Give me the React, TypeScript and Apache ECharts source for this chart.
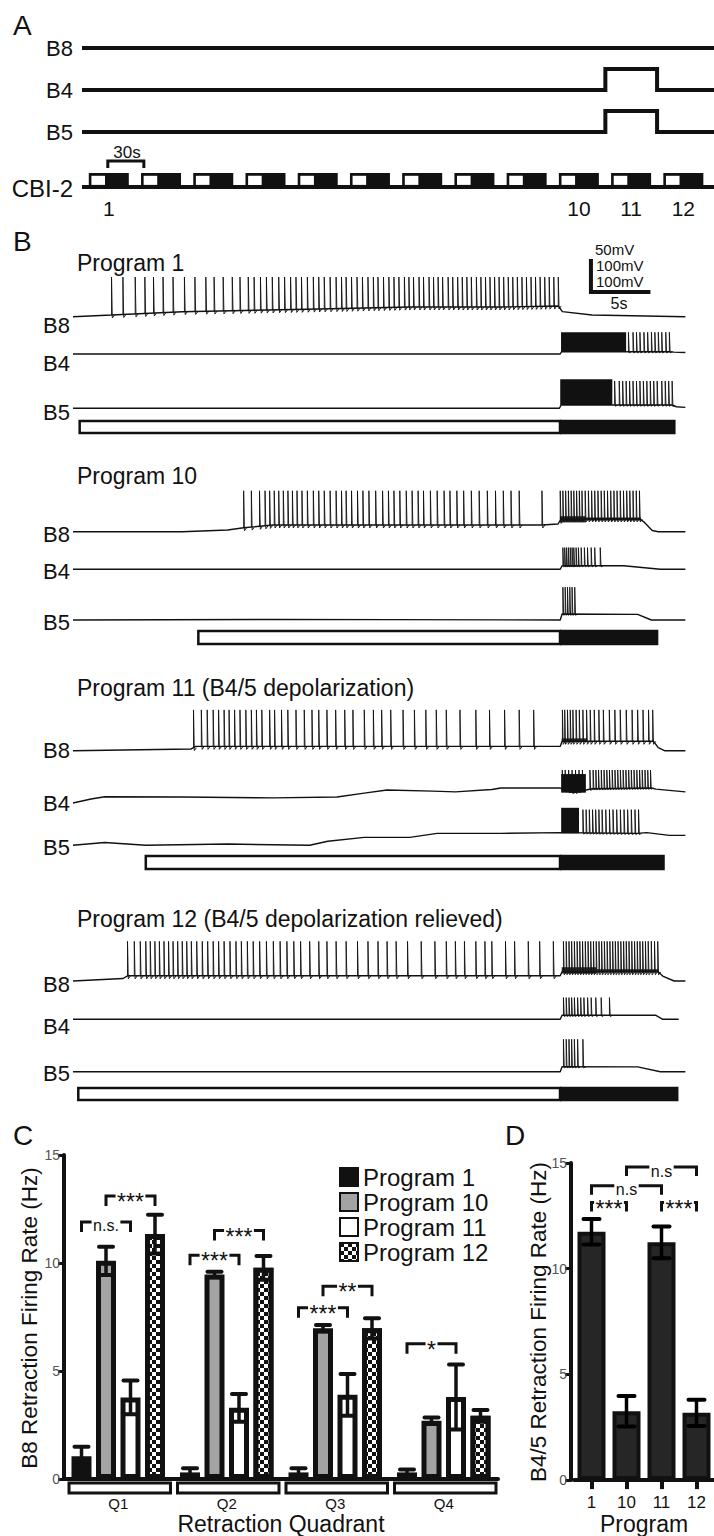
import React, { useEffect, useRef } from 'react';
import * as echarts from 'echarts';

const FONT = '"Liberation Sans", Arial, Helvetica, sans-serif';
const INK = '#111';

// ---------------- Panel A (protocol) ----------------
const aCycles = [0, 1, 2, 3, 4, 5, 6, 7, 8, 9, 10, 11];
const aBlockLength = 0.766;
const aProgramMarks = [0, 9, 10, 11];
const aProgramLabels = ['1', '10', '11', '12'];
const aB8 = [[-0.13, 0], [11.97, 0]];
const aB4 = [[-0.13, 0], [9.89, 0], [9.89, 1], [10.88, 1], [10.88, 0], [11.97, 0]];
const aB5 = [[-0.13, 0], [9.89, 0], [9.89, 1], [10.88, 1], [10.88, 0], [11.97, 0]];
const aCbiBase = [[-0.13, 0], [11.97, 0]];
const aBracket30s = [[0.364, 1.36], [0.364, 1.86], [1.054, 1.86], [1.054, 1.36]];

// ---------------- Panel B (recordings, time in s, membrane potential in mV) ----------------
const p1B8Base = [[0, -60], [3.35, -57.3], [9.49, -51.9], [21.37, -47.6], [29.3, -44.4], [37.21, -44.4], [42.2, -42.7], [42.56, -51.9], [45.13, -57.3], [53.25, -60]];
const p1B8Spikes = [3.35, 4.34, 5.41, 6.25, 7.0, 7.83, 8.7, 9.69, 10.6, 11.55, 12.27, 13.06, 13.85, 14.52, 15.24, 15.75, 16.3, 16.82, 17.33, 17.89, 18.4, 18.92, 19.39, 19.87, 20.38, 20.9, 21.37, 21.85, 22.36, 22.88, 23.35, 23.75, 24.22, 24.7, 25.17, 25.65, 26.12, 26.52, 27.0, 27.47, 27.91, 28.34, 28.82, 29.21, 29.61, 30.09, 30.48, 30.96, 31.35, 31.75, 32.14, 32.62, 33.02, 33.45, 33.85, 34.25, 34.64, 35.08, 35.47, 35.87, 36.26, 36.66, 37.05, 37.45, 37.85, 38.24, 38.64, 39.04, 39.43, 39.83, 40.22, 40.62, 41.02, 41.41, 41.81, 42.2];
const p1B8Peak = 4;
const p1B8Bursts: number[][] = [];
const p1B4Base = [[0, -60], [42.37, -60], [42.49, -52.6], [51.86, -52.6], [52.26, -54], [53.25, -55]];
const p1B4Spikes = [48.3, 48.7, 49.0, 49.3, 49.65, 49.97, 50.3, 50.6, 50.9, 51.2, 51.55, 51.86];
const p1B4Peak = 10;
const p1B4Bursts = [[42.44, 48.1, -52.6, 10]];
const p1B5Base = [[0, -60], [42.29, -60], [42.45, -49.4], [52.07, -49.4], [52.47, -55], [53.25, -57]];
const p1B5Spikes = [47.1, 47.5, 47.8, 48.1, 48.4, 48.7, 49.0, 49.3, 49.6, 49.9, 50.2, 50.5, 50.8, 51.2, 51.5, 51.8, 52.1];
const p1B5Peak = 28;
const p1B5Bursts = [[42.37, 46.9, -49.4, 34]];

const p10B8Base = [[0, -60], [9.5, -60], [13.45, -57.3], [14.84, -53.7], [17.42, -49.2], [40.78, -49.2], [42.17, -47.6], [42.45, -39.5], [49.3, -39.5], [49.7, -45], [50.37, -58], [50.89, -60], [53.25, -60]];
const p10B8Spikes = [14.84, 15.51, 16.22, 16.7, 17.1, 17.5, 17.89, 18.29, 18.69, 19.08, 19.48, 19.91, 20.38, 20.9, 21.37, 21.85, 22.36, 22.88, 23.35, 23.75, 24.22, 24.74, 25.21, 25.73, 26.32, 26.92, 27.43, 27.91, 28.42, 28.98, 29.49, 30.01, 30.48, 31.08, 31.67, 32.27, 32.78, 33.38, 33.97, 34.64, 35.32, 36.03, 36.74, 37.42, 38.09, 38.8, 40.78, 42.37, 42.6, 42.84, 43.08, 43.32, 43.55, 43.79, 44.03, 44.26, 44.54, 44.82, 45.1, 45.37, 45.65, 45.93, 46.2, 46.48, 46.76, 47.04, 47.31, 47.59, 47.87, 48.15, 48.42, 48.7, 48.98, 49.26];
const p10B8Peak = 6;
const p10B8Bursts = [[42.35, 44.6, -45, -35], [44.6, 49.4, -42, -37]];
const p10B4Base = [[0, -60], [42.37, -60], [42.53, -48.4], [47.9, -48.4], [51.07, -60], [53.25, -60]];
const p10B4Spikes = [42.6, 42.76, 42.92, 43.08, 43.24, 43.4, 43.55, 43.75, 43.95, 44.19, 44.47, 44.74, 45.06, 45.37, 45.85];
const p10B4Peak = 10;
const p10B4Bursts: number[][] = [];
const p10B5Base = [[0, -60], [17.4, -58], [42.37, -60], [42.53, -40.6], [49.1, -42], [50.3, -60], [53.25, -60]];
const p10B5Spikes = [42.6, 42.8, 43.0, 43.2, 43.4, 43.63];
const p10B5Peak = 46;
const p10B5Bursts: number[][] = [];

const p11B8Base = [[0, -60], [10.28, -57], [10.68, -52.9], [42.37, -52.9], [42.53, -44.7], [50.49, -44.7], [50.89, -55], [51.48, -60], [53.25, -60]];
const p11B8Spikes = [10.48, 11.16, 11.67, 12.19, 12.66, 13.14, 13.57, 14.05, 14.52, 15.03, 15.51, 15.95, 16.42, 17.1, 17.53, 18.13, 18.68, 19.39, 20.11, 20.78, 21.37, 22.08, 22.84, 23.63, 24.34, 25.33, 26.12, 26.84, 27.63, 28.7, 29.69, 30.68, 31.59, 32.46, 33.65, 35.03, 36.22, 37.53, 38.8, 40.06, 42.56, 42.76, 43.0, 43.24, 43.47, 43.75, 44.03, 44.34, 44.66, 44.98, 45.33, 45.73, 46.12, 46.64, 47.12, 47.59, 48.11, 48.62, 49.1, 49.57, 50.05, 50.41];
const p11B8Peak = 6;
const p11B8Bursts = [[42.5, 44.7, -46, -40]];
const p11B4Base = [[0, -79.4], [1.57, -66.5], [2.76, -59], [9.49, -60], [17.42, -62.9], [22.96, -60], [25.33, -47.4], [27.31, -37.4], [31.27, -41], [33.25, -43.5], [36.42, -35.8], [37.21, -31], [42.37, -31], [42.76, -40], [43.55, -46], [45.13, -33.2], [50.29, -31], [50.69, -34.5], [53.25, -43.5]];
const p11B4Spikes = [42.55, 42.8, 43.1, 43.4, 43.7, 44.0, 44.3, 44.95, 45.23, 45.47, 45.7, 45.94, 46.18, 46.42, 46.65, 46.89, 47.13, 47.37, 47.6, 47.84, 48.08, 48.32, 48.55, 48.79, 49.03, 49.27, 49.5, 49.74, 49.98, 50.22];
const p11B4Peak = 27;
const p11B4Bursts = [[42.45, 44.6, -46, 14]];
const p11B5Base = [[0, -60], [2.76, -51], [6.32, -60], [13.45, -56], [20.58, -60], [22.16, -47.1], [25.33, -34.5], [29.29, -34.5], [31.67, -21.6], [37.21, -21.6], [42.37, -19], [49.1, -21.6], [49.89, -19], [51.87, -28], [53.25, -28]];
const p11B5Spikes = [44.34, 44.62, 44.9, 45.18, 45.45, 45.73, 46.01, 46.33, 46.65, 46.96, 47.28, 47.6, 47.92, 48.23, 48.55, 48.87, 49.18];
const p11B5Peak = 55;
const p11B5Bursts = [[42.45, 44.0, -21, 61]];

const p12B8Base = [[0, -60], [4.35, -56], [4.74, -51.6], [42.37, -51.6], [42.53, -45.2], [50.89, -45.2], [51.28, -52], [52.27, -60], [53.25, -60]];
const p12B8Spikes = [4.74, 5.33, 5.85, 6.33, 6.72, 7.12, 7.51, 7.91, 8.31, 8.7, 9.1, 9.5, 9.89, 10.29, 10.76, 11.24, 11.71, 12.19, 12.66, 13.14, 13.65, 14.17, 14.64, 15.16, 15.67, 16.23, 16.82, 17.42, 18.01, 18.6, 19.2, 19.79, 20.58, 21.37, 22.08, 22.88, 23.75, 24.74, 25.65, 26.52, 27.31, 28.1, 29.09, 30.28, 31.47, 32.46, 33.25, 34.04, 35.03, 35.82, 36.42, 37.61, 38.4, 39.59, 40.58, 41.77, 42.65, 42.89, 43.13, 43.36, 43.6, 43.84, 44.07, 44.31, 44.55, 44.79, 45.02, 45.26, 45.5, 45.74, 45.97, 46.21, 46.45, 46.69, 46.93, 47.16, 47.4, 47.64, 47.88, 48.11, 48.35, 48.59, 48.83, 49.07, 49.3, 49.54, 49.78, 50.02, 50.29, 50.57, 50.85];
const p12B8Peak = 4;
const p12B8Bursts = [[42.5, 45.5, -48, -38], [45.5, 50.9, -46, -41]];
const p12B4Base = [[0, -60], [42.37, -60], [42.53, -47.1], [50.69, -47.1], [51.28, -60], [52.67, -60]];
const p12B4Spikes = [42.65, 42.89, 43.13, 43.36, 43.6, 43.88, 44.15, 44.43, 44.75, 45.06, 45.46, 45.93, 46.65];
const p12B4Peak = 10;
const p12B4Bursts: number[][] = [];
const p12B5Base = [[0, -60], [42.37, -60], [42.53, -43.5], [49.1, -44], [51.08, -60], [53.25, -60]];
const p12B5Spikes = [42.65, 42.89, 43.13, 43.36, 43.6, 43.88, 44.34];
const p12B5Peak = 45;
const p12B5Bursts: number[][] = [];

// protraction (white) start, switch to retraction (black), end
const stimBars = [[0.58, 42.35, 52.4], [10.9, 42.35, 50.9], [6.33, 42.35, 51.46], [0.46, 42.35, 52.65]];
const programTitles = ['Program 1', 'Program 10', 'Program 11 (B4/5 depolarization)', 'Program 12 (B4/5 depolarization relieved)'];
const cellNames = ['B8', 'B4', 'B5'];
// scale bar: 5 s, 50 mV (B8) / 100 mV (B4, B5)
const scaleBar = [[45.04, 29.8], [45.04, -20.2], [50.04, -20.2]];
const scaleTexts = ['50mV', '100mV', '100mV', '5s'];

// ---------------- Panel C ----------------
const quadrants = ['Q1', 'Q2', 'Q3', 'Q4'];
const programs = ['Program 1', 'Program 10', 'Program 11', 'Program 12'];
const cP1 = [1.06, 0.31, 0.31, 0.31];
const cP1Err = [0.44, 0.19, 0.19, 0.14];
const cP10 = [10.1, 9.47, 6.98, 2.7];
const cP10Err = [0.65, 0.13, 0.15, 0.15];
const cP11 = [3.78, 3.3, 3.9, 3.8];
const cP11Err = [0.78, 0.64, 0.97, 1.5];
const cP12 = [11.34, 9.78, 6.98, 2.93];
const cP12Err = [0.9, 0.55, 0.47, 0.27];
// [quadrant, from program index, to program index, bracket height (Hz)]
const cSig = [[0, 0, 2, 11.9], [0, 1, 3, 13.1], [1, 0, 2, 10.36], [1, 1, 3, 11.5], [2, 0, 2, 7.93], [2, 1, 3, 8.92], [3, 0, 2, 6.26]];
const cSigLabels = ['n.s.', '***', '***', '***', '***', '**', '*'];

// ---------------- Panel D ----------------
const dPrograms = ['1', '10', '11', '12'];
const dRate = [11.75, 3.26, 11.25, 3.18];
const dErr = [0.6, 0.72, 0.75, 0.62];
const dSig = [[0, 1, 13.13], [2, 3, 13.13], [0, 2, 13.92], [1, 3, 14.81]];
const dSigLabels = ['***', '***', 'n.s', 'n.s'];

// ---------------- layout ----------------
const layoutB = [
  { title: 263, base: [316.7, 354, 408.3], labels: [325, 363, 412], stim: [421, 12] },
  { title: 476, base: [531.7, 569.3, 620], labels: [534, 571, 622], stim: [631, 13] },
  { title: 688, base: [750.8, 797, 845.3], labels: [750, 803, 847], stim: [856, 13] },
  { title: 919, base: [981, 1019.3, 1071.8], labels: [984, 1026, 1073], stim: [1088, 12] },
];
const C_OFFSETS = [-36.75, -12.25, 12.25, 36.75];
const CHAR_W: Record<string, number> = { '*': 0.389, n: 0.556, s: 0.5, '.': 0.278 };

function baseAt(pts: number[][], t: number) {
  if (t <= pts[0][0]) return pts[0][1];
  for (let i = 0; i < pts.length - 1; i++) {
    const t0 = pts[i][0], v0 = pts[i][1], t1 = pts[i + 1][0], v1 = pts[i + 1][1];
    if (t <= t1) return t1 === t0 ? v1 : v0 + ((v1 - v0) * (t - t0)) / (t1 - t0);
  }
  return pts[pts.length - 1][1];
}

// significance bracket: ticks at x1, x2, line at y, label interrupting the line
function sigBracket(text: string, x1: number, x2: number, y: number, tick: number) {
  const stars = text.indexOf('*') >= 0;
  const fs = stars ? 23 : 16;
  let w = 0;
  for (const ch of text) w += (CHAR_W[ch] || 0.5) * fs;
  const mid = (x1 + x2) / 2;
  const hw = w / 2 + 1.5;
  const ls = { stroke: INK, lineWidth: 3, fill: null, lineJoin: 'miter' };
  return {
    type: 'group',
    children: [
      { type: 'polyline', shape: { points: [[x1, y + tick], [x1, y], [mid - hw, y]] }, style: ls },
      { type: 'polyline', shape: { points: [[mid + hw, y], [x2, y], [x2, y + tick]] }, style: ls },
      {
        type: 'text', x: mid, y: stars ? y + 6 : y + 4,
        style: { text, fontSize: fs, fontFamily: FONT, fill: INK, align: 'center', verticalAlign: 'middle' },
      },
    ],
  };
}

function buildOption() {
  const grids: any[] = [];
  const xAxes: any[] = [];
  const yAxes: any[] = [];
  const series: any[] = [];
  const graphic: any[] = [];
  const addGrid = (g: any, x: any, y: any) => {
    grids.push(g);
    const gi = grids.length - 1;
    xAxes.push({ ...x, gridIndex: gi });
    yAxes.push({ ...y, gridIndex: gi });
    return gi;
  };
  const txt = (text: string, x: number, y: number, size: number, align = 'left', extra: any = {}) =>
    graphic.push({
      type: 'text', x, y, silent: true, ...extra,
      style: { text, fontSize: size, fontFamily: FONT, fill: INK, align, verticalAlign: 'middle' },
    });

  // ---- Panel A ----
  const aX = { type: 'value', min: -0.13, max: 11.97, show: false };
  const aY = { type: 'value', min: 0, max: 1, show: false };
  const aRows = [
    { top: 27, h: 21, data: aB8 },
    { top: 69, h: 21, data: aB4 },
    { top: 111, h: 21, data: aB5 },
  ];
  aRows.forEach((r) => {
    const gi = addGrid({ left: 82, width: 632, top: r.top, height: r.h }, aX, aY);
    series.push({
      type: 'line', xAxisIndex: gi, yAxisIndex: gi, data: r.data, showSymbol: false, silent: true, clip: false,
      lineStyle: { color: INK, width: 4, join: 'miter' },
    });
  });
  const gCbi = addGrid({ left: 82, width: 632, top: 173, height: 14 }, aX, aY);
  series.push({
    type: 'line', xAxisIndex: gCbi, yAxisIndex: gCbi, data: aCbiBase, showSymbol: false, silent: true, clip: false,
    lineStyle: { color: INK, width: 4 },
  });
  series.push({
    type: 'custom', xAxisIndex: gCbi, yAxisIndex: gCbi, silent: true, clip: false,
    data: aCycles.map((c) => [c, c + aBlockLength]),
    renderItem: (_p: any, api: any) => {
      const s = api.value(0), e = api.value(1);
      const a = api.coord([s, 1]), b = api.coord([e, 0]);
      const wa = api.coord([s + 0.05, 0.8]), wb = api.coord([s + 0.31, 0.15]);
      return {
        type: 'group',
        children: [
          { type: 'rect', shape: { x: a[0], y: a[1], width: b[0] - a[0], height: b[1] - a[1] + 2 }, style: { fill: INK } },
          { type: 'rect', shape: { x: wa[0], y: wa[1], width: wb[0] - wa[0], height: wb[1] - wa[1] }, style: { fill: '#fff' } },
        ],
      };
    },
  });
  series.push({
    type: 'custom', xAxisIndex: gCbi, yAxisIndex: gCbi, silent: true, clip: false,
    data: aProgramMarks.map((c) => [c + aBlockLength / 2, 0]),
    renderItem: (p: any, api: any) => {
      const pt = api.coord([api.value(0), 0]);
      return {
        type: 'text', x: pt[0], y: pt[1] + 21,
        style: { text: aProgramLabels[p.dataIndex], fontSize: 21, fontFamily: FONT, fill: INK, align: 'center', verticalAlign: 'middle' },
      };
    },
  });
  series.push({
    type: 'line', xAxisIndex: gCbi, yAxisIndex: gCbi, data: aBracket30s, showSymbol: false, silent: true, clip: false,
    lineStyle: { color: INK, width: 3, join: 'miter' },
  });
  txt('A', 13, 25, 28);
  txt('B8', 73, 48, 22, 'right');
  txt('B4', 73, 90, 22, 'right');
  txt('B5', 73, 132, 22, 'right');
  txt('CBI-2', 73, 188, 24, 'right');
  txt('30s', 127, 152, 17, 'center');

  // ---- Panel B ----
  txt('B', 13, 241, 28);
  const progData = [
    [
      [p1B8Base, p1B8Spikes, p1B8Peak, p1B8Bursts],
      [p1B4Base, p1B4Spikes, p1B4Peak, p1B4Bursts],
      [p1B5Base, p1B5Spikes, p1B5Peak, p1B5Bursts],
    ],
    [
      [p10B8Base, p10B8Spikes, p10B8Peak, p10B8Bursts],
      [p10B4Base, p10B4Spikes, p10B4Peak, p10B4Bursts],
      [p10B5Base, p10B5Spikes, p10B5Peak, p10B5Bursts],
    ],
    [
      [p11B8Base, p11B8Spikes, p11B8Peak, p11B8Bursts],
      [p11B4Base, p11B4Spikes, p11B4Peak, p11B4Bursts],
      [p11B5Base, p11B5Spikes, p11B5Peak, p11B5Bursts],
    ],
    [
      [p12B8Base, p12B8Spikes, p12B8Peak, p12B8Bursts],
      [p12B4Base, p12B4Spikes, p12B4Peak, p12B4Bursts],
      [p12B5Base, p12B5Spikes, p12B5Peak, p12B5Bursts],
    ],
  ];
  const tX = { type: 'value', min: 0, max: 53.22, show: false };
  progData.forEach((cells: any, pi: number) => {
    const L = layoutB[pi];
    txt(programTitles[pi], 77, L.title, 23);
    cells.forEach((cell: any, ci: number) => {
      const [base, spikes, peak, bursts] = cell;
      const isB8 = ci === 0;
      const top = isB8 ? L.base[ci] - 62 : L.base[ci] - 43.4;
      const h = isB8 ? 74.4 : 55.8;
      const yAx = isB8 ? { type: 'value', min: -80, max: 40, show: false } : { type: 'value', min: -100, max: 80, show: false };
      const gi = addGrid({ left: 73, width: 612, top, height: h }, tX, yAx);
      const ahp = isB8 ? 3 : 1.2;
      series.push({
        type: 'line', xAxisIndex: gi, yAxisIndex: gi, data: base, showSymbol: false, silent: true, clip: false,
        lineStyle: { color: INK, width: 1.4 },
      });
      if (bursts.length) {
        series.push({
          type: 'custom', xAxisIndex: gi, yAxisIndex: gi, silent: true, clip: false,
          data: bursts,
          renderItem: (_p: any, api: any) => {
            const a = api.coord([api.value(0), api.value(3)]);
            const b = api.coord([api.value(1), api.value(2)]);
            return { type: 'rect', shape: { x: a[0], y: a[1], width: b[0] - a[0], height: b[1] - a[1] }, style: { fill: isB8 ? '#2a2a2a' : INK } };
          },
        });
      }
      series.push({
        type: 'custom', xAxisIndex: gi, yAxisIndex: gi, silent: true, clip: false,
        data: spikes.map((t: number) => [t, peak]),
        renderItem: (_p: any, api: any) => {
          const t = api.value(0), pk = api.value(1);
          const b = baseAt(base, t);
          const p0 = api.coord([t, b]);
          const p1 = api.coord([t, pk]);
          return {
            type: 'polyline',
            shape: { points: [[p0[0], p0[1]], [p1[0], p1[1]], [p0[0] + 0.8, p0[1] + ahp], [p0[0] + 3, p0[1]]] },
            style: { stroke: INK, lineWidth: 0.9, fill: null },
          };
        },
      });
      if (pi === 0 && ci === 0) {
        series.push({
          type: 'line', xAxisIndex: gi, yAxisIndex: gi, data: scaleBar, showSymbol: false, silent: true, clip: false,
          lineStyle: { color: INK, width: 4, join: 'miter', cap: 'square' },
        });
      }
      txt(cellNames[ci], 70, L.labels[ci], 22, 'right');
    });
    const gs = addGrid({ left: 73, width: 612, top: L.stim[0], height: L.stim[1] }, tX, { type: 'value', min: 0, max: 1, show: false });
    series.push({
      type: 'custom', xAxisIndex: gs, yAxisIndex: gs, silent: true, clip: false,
      data: [stimBars[pi]],
      renderItem: (_p: any, api: any) => {
        const a = api.coord([api.value(0), 1]);
        const m = api.coord([api.value(1), 0]);
        const e = api.coord([api.value(2), 0]);
        return {
          type: 'group',
          children: [
            { type: 'rect', shape: { x: a[0], y: a[1], width: m[0] - a[0], height: m[1] - a[1] }, style: { fill: '#fff', stroke: INK, lineWidth: 2.5 } },
            { type: 'rect', shape: { x: m[0], y: a[1] - 1.25, width: e[0] - m[0], height: m[1] - a[1] + 2.5 }, style: { fill: INK } },
          ],
        };
      },
    });
  });
  txt(scaleTexts[0], 595, 249, 15);
  txt(scaleTexts[1], 596, 265, 15);
  txt(scaleTexts[2], 596, 281, 15);
  txt(scaleTexts[3], 619, 303, 16, 'center');

  // ---- Panel C ----
  txt('C', 13, 1135, 28);
  const gC = addGrid(
    { left: 64, top: 1155, width: 434, height: 329 },
    {
      type: 'category', data: quadrants,
      axisLine: { lineStyle: { color: INK, width: 4 } }, axisTick: { show: false },
      axisLabel: { fontSize: 15, color: INK, margin: 17, fontFamily: FONT },
      name: 'Retraction Quadrant', nameLocation: 'middle', nameGap: 30,
      nameTextStyle: { fontSize: 23, color: INK, fontFamily: FONT },
    },
    {
      type: 'value', min: 0, max: 15, interval: 5,
      axisLine: { show: true, lineStyle: { color: INK, width: 4 } },
      axisTick: { show: true, length: 6, lineStyle: { color: INK, width: 3 } },
      axisLabel: { fontSize: 14, color: '#555', margin: 4, fontFamily: FONT },
      splitLine: { show: false },
    }
  );
  const cVals = [cP1, cP10, cP11, cP12];
  const cErrs = [cP1Err, cP10Err, cP11Err, cP12Err];
  const cFill = [INK, '#a3a3a3', '#ffffff', INK];
  cVals.forEach((vals, si) => {
    series.push({
      type: 'bar', name: programs[si], xAxisIndex: gC, yAxisIndex: gC, data: vals,
      barWidth: 20, barGap: '22.5%', silent: true,
      itemStyle: {
        color: cFill[si], borderColor: INK, borderWidth: 5,
        decal: si === 3 ? { symbol: 'rect', symbolSize: 1, color: '#fff', backgroundColor: INK, dashArrayX: [[4, 4], [0, 4, 4, 0]], dashArrayY: [4, 0] } : undefined,
      },
    });
  });
  cVals.forEach((vals, si) => {
    series.push({
      type: 'custom', xAxisIndex: gC, yAxisIndex: gC, silent: true, clip: false, z: 5,
      data: vals.map((v, i) => [i, v, cErrs[si][i]]),
      renderItem: (_p: any, api: any) => {
        const i = api.value(0), v = api.value(1), e = api.value(2);
        const top = api.coord([i, v + e]);
        const bot = api.coord([i, Math.max(0, v - e)]);
        const x = top[0] + C_OFFSETS[si];
        return {
          type: 'group',
          children: [
            { type: 'line', shape: { x1: x, y1: top[1], x2: x, y2: bot[1] }, style: { stroke: INK, lineWidth: 3.5 } },
            { type: 'line', shape: { x1: x - 7, y1: top[1], x2: x + 7, y2: top[1] }, style: { stroke: INK, lineWidth: 4, lineCap: 'round' } },
            { type: 'line', shape: { x1: x - 7, y1: bot[1], x2: x + 7, y2: bot[1] }, style: { stroke: INK, lineWidth: 4, lineCap: 'round' } },
          ],
        };
      },
    });
  });
  // quadrant brackets under the axis
  series.push({
    type: 'custom', xAxisIndex: gC, yAxisIndex: gC, silent: true, clip: false,
    data: quadrants.map((_q, i) => [i, 0]),
    renderItem: (_p: any, api: any) => {
      const c = api.coord([api.value(0), 0]);
      const w = api.size([1, 0])[0];
      return {
        type: 'rect', shape: { x: c[0] - w / 2 + 5, y: c[1] + 4, width: w - 7, height: 10 },
        style: { fill: '#fff', stroke: INK, lineWidth: 3 },
      };
    },
  });
  series.push({
    type: 'custom', xAxisIndex: gC, yAxisIndex: gC, silent: true, clip: false, z: 6,
    data: cSig,
    renderItem: (p: any, api: any) => {
      const q = api.value(0), a = api.value(1), b = api.value(2), y = api.value(3);
      const pt = api.coord([q, y]);
      return sigBracket(cSigLabels[p.dataIndex], pt[0] + C_OFFSETS[a], pt[0] + C_OFFSETS[b], pt[1], 10);
    },
  });
  graphic.push({
    type: 'text', x: 29, y: 1318, rotation: Math.PI / 2, silent: true,
    style: { text: 'B8 Retraction Firing Rate (Hz)', fontSize: 22.5, fontFamily: FONT, fill: INK, align: 'center', verticalAlign: 'middle' },
  });

  // ---- Panel D ----
  txt('D', 505, 1135, 28);
  const gD = addGrid(
    { left: 574, top: 1163, width: 140, height: 320 },
    {
      type: 'category', data: dPrograms,
      axisLine: { lineStyle: { color: INK, width: 4 } },
      axisTick: { show: true, alignWithLabel: true, length: 9, lineStyle: { color: INK, width: 4 } },
      axisLabel: { fontSize: 17, color: INK, margin: 14, fontFamily: FONT },
      name: 'Program', nameLocation: 'middle', nameGap: 31,
      nameTextStyle: { fontSize: 23, color: INK, fontFamily: FONT },
    },
    {
      type: 'value', min: 0, max: 15, interval: 5, offset: 3,
      axisLine: { show: true, lineStyle: { color: INK, width: 4 } },
      axisTick: { show: true, length: 6, lineStyle: { color: INK, width: 3 } },
      axisLabel: { fontSize: 14, color: '#555', margin: 4, fontFamily: FONT },
      splitLine: { show: false },
    }
  );
  series.push({
    type: 'bar', name: 'B4/5', xAxisIndex: gD, yAxisIndex: gD, data: dRate, barWidth: 28, silent: true,
    itemStyle: { color: '#262626', borderColor: INK, borderWidth: 4 },
  });
  series.push({
    type: 'custom', xAxisIndex: gD, yAxisIndex: gD, silent: true, clip: false, z: 5,
    data: dRate.map((v, i) => [i, v, dErr[i]]),
    renderItem: (_p: any, api: any) => {
      const i = api.value(0), v = api.value(1), e = api.value(2);
      const top = api.coord([i, v + e]);
      const bot = api.coord([i, v - e]);
      const x = top[0];
      return {
        type: 'group',
        children: [
          { type: 'line', shape: { x1: x, y1: top[1], x2: x, y2: bot[1] }, style: { stroke: '#000', lineWidth: 3.5 } },
          { type: 'line', shape: { x1: x - 8, y1: top[1], x2: x + 8, y2: top[1] }, style: { stroke: '#000', lineWidth: 4, lineCap: 'round' } },
          { type: 'line', shape: { x1: x - 8, y1: bot[1], x2: x + 8, y2: bot[1] }, style: { stroke: '#000', lineWidth: 4, lineCap: 'round' } },
        ],
      };
    },
  });
  series.push({
    type: 'custom', xAxisIndex: gD, yAxisIndex: gD, silent: true, clip: false, z: 6,
    data: dSig,
    renderItem: (p: any, api: any) => {
      const a = api.coord([api.value(0), api.value(2)]);
      const b = api.coord([api.value(1), api.value(2)]);
      return sigBracket(dSigLabels[p.dataIndex], a[0], b[0], a[1], 9);
    },
  });
  graphic.push({
    type: 'text', x: 538, y: 1322, rotation: Math.PI / 2, silent: true,
    style: { text: 'B4/5 Retraction Firing Rate (Hz)', fontSize: 22.5, fontFamily: FONT, fill: INK, align: 'center', verticalAlign: 'middle' },
  });

  return {
    animation: false,
    backgroundColor: '#fff',
    textStyle: { fontFamily: FONT },
    grid: grids,
    xAxis: xAxes,
    yAxis: yAxes,
    legend: {
      data: programs, orient: 'vertical', left: 334, top: 1160, itemWidth: 18, itemHeight: 18, itemGap: 1,
      icon: 'rect', selectedMode: false,
      textStyle: { fontSize: 24, color: INK, fontFamily: FONT, lineHeight: 24 },
    },
    series,
    graphic,
  };
}

export default function App() {
  const ref = useRef<HTMLDivElement>(null);
  useEffect(() => {
    if (!ref.current) return;
    const chart = echarts.init(ref.current, undefined, { renderer: 'svg' });
    chart.setOption(buildOption() as any);
    return () => chart.dispose();
  }, []);
  return <div ref={ref} style={{ position: 'absolute', left: 0, top: 0, width: 714, height: 1536, background: '#fff' }} />;
}
